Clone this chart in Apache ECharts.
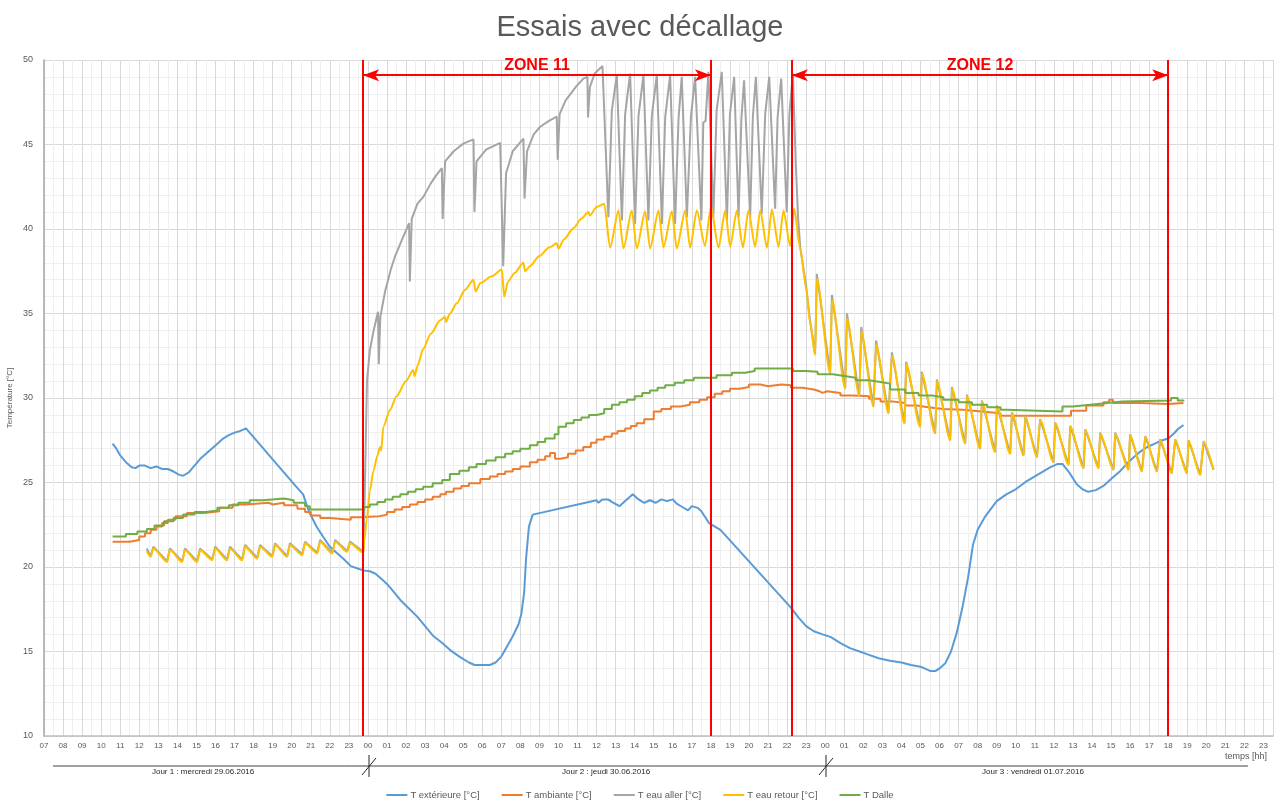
<!DOCTYPE html>
<html>
<head>
<meta charset="utf-8">
<title>Essais avec décallage</title>
<script src="https://cdn.jsdelivr.net/npm/echarts@6/dist/echarts.min.js"></script>
<style>
  html, body { margin: 0; padding: 0; background: #ffffff; }
  #main { width: 1280px; height: 800px; }
</style>
</head>
<body>
<div id="main"></div>
<script>
// Time is expressed in hours since 00:00 on day 1 (29.06.2016).
// 24 = 00:00 day 2, 48 = 00:00 day 3.

const seriesNames = ['T extérieure [°C]', 'T ambiante [°C]', 'T eau aller [°C]', 'T eau retour [°C]', 'T Dalle'];
const seriesColors = ['#5b9bd5', '#ed7d31', '#a5a5a5', '#ffc000', '#70ad47'];

const dayLabels = ['Jour 1 : mercredi 29.06.2016', 'Jour 2 : jeudi 30.06.2016', 'Jour 3 : vendredi 01.07.2016'];
const dayLabelHours = [15.35, 36.5, 58.9];
const dayBreakHours = [24, 48];

const zoneBounds = [23.75, 42, 46.25, 66];
const zoneNames = ['ZONE 11', 'ZONE 12'];
const zoneArrowLevel = 49.1;

// T extérieure
const tExterieure = [
  [10.6,27.3],[10.8,27.0],[11.0,26.6],[11.3,26.2],[11.6,25.9],[11.8,25.85],[12.0,26.0],[12.3,26.0],
  [12.6,25.85],[12.9,25.95],[13.2,25.8],[13.5,25.8],[13.8,25.65],[14.1,25.45],[14.3,25.4],[14.6,25.6],
  [14.9,26.0],[15.2,26.4],[15.5,26.7],[15.8,27.0],[16.1,27.3],[16.4,27.6],[16.7,27.8],[17.0,27.95],
  [17.3,28.05],[17.6,28.2],[17.7,28.2],[20.2,24.8],[20.6,24.3],[20.9,23.3],[21.3,22.4],[21.7,21.7],
  [22.0,21.2],[22.4,20.8],[22.7,20.5],[23.1,20.05],[23.5,19.9],[23.76,19.8],[24.1,19.75],[24.4,19.6],
  [24.7,19.3],[25.0,19.0],[25.3,18.6],[25.7,18.05],[26.1,17.6],[26.6,17.05],[27.0,16.5],[27.4,15.95],
  [27.9,15.5],[28.3,15.1],[28.8,14.7],[29.3,14.35],[29.6,14.2],[30.4,14.2],[30.7,14.35],[31.0,14.7],
  [31.3,15.3],[31.6,15.9],[31.9,16.6],[32.05,17.2],[32.2,18.5],[32.3,20.5],[32.45,22.4],[32.65,23.1],
  [36.0,23.95],[36.1,23.8],[36.3,24.0],[36.6,24.0],[36.8,23.85],[37.2,23.6],[37.5,23.9],[37.9,24.3],
  [38.2,24.0],[38.5,23.8],[38.8,23.95],[39.1,23.8],[39.4,24.0],[39.7,23.9],[40.0,24.0],[40.2,23.75],
  [40.5,23.55],[40.8,23.35],[41.0,23.6],[41.3,23.5],[41.5,23.3],[41.9,22.6],[42.5,22.2],[46.2,17.6],
  [46.6,17.0],[47.0,16.5],[47.4,16.2],[47.9,16.0],[48.3,15.85],[48.8,15.5],[49.3,15.2],[49.8,15.0],
  [50.3,14.8],[50.8,14.6],[51.4,14.45],[52.0,14.35],[52.5,14.2],[53.0,14.1],[53.5,13.85],[53.8,13.85],
  [54.0,14.0],[54.3,14.3],[54.6,15.0],[54.9,16.1],[55.2,17.6],[55.5,19.4],[55.75,21.3],[56.0,22.2],
  [56.4,23.0],[57.0,23.9],[57.5,24.3],[58.0,24.6],[58.6,25.1],[59.2,25.5],[59.8,25.9],[60.2,26.1],
  [60.45,26.1],[60.8,25.6],[61.2,24.9],[61.5,24.6],[61.8,24.45],[62.2,24.55],[62.6,24.8],[63.0,25.2],
  [63.5,25.7],[64.0,26.3],[64.5,26.8],[64.9,27.1],[65.3,27.3],[65.7,27.5],[66.0,27.6],[66.3,27.9],
  [66.5,28.15],[66.8,28.4]
];

// T ambiante (stepped readings)
const tAmbiante = [
  [10.6,21.5],[11.5,21.6],[12.0,21.8],[12.3,22.0],[12.6,22.2],[12.9,22.4],[13.2,22.6],[13.5,22.8],
  [13.9,23.0],[14.5,23.2],[15.4,23.3],[16.2,23.5],[16.9,23.7],[17.6,23.8],[18.8,23.7],[19.0,23.8],
  [19.6,23.65],[20.3,23.45],[20.7,23.25],[21.0,23.05],[21.5,22.9],[22.0,22.8],[23.1,22.95],[23.6,23.0],
  [24.6,23.1],[25.0,23.25],[25.4,23.4],[25.8,23.55],[26.2,23.7],[26.6,23.85],[27.0,24.0],[27.4,24.15],
  [27.8,24.3],[28.1,24.45],[28.5,24.65],[28.9,24.8],[29.3,24.95],[29.9,25.2],[30.4,25.35],[30.8,25.5],
  [31.2,25.65],[31.6,25.8],[32.0,25.95],[32.5,26.2],[32.9,26.35],[33.3,26.55],[33.56,26.75],[33.82,26.4],
  [34.1,26.5],[34.5,26.7],[34.9,26.9],[35.3,27.1],[35.7,27.35],[36.0,27.55],[36.4,27.7],[36.8,27.9],
  [37.1,28.05],[37.5,28.2],[37.8,28.35],[38.1,28.5],[38.5,28.75],[39.0,29.2],[39.4,29.35],[39.9,29.5],
  [40.4,29.6],[40.9,29.75],[41.4,29.9],[41.8,30.05],[42.2,30.25],[42.6,30.4],[43.0,30.55],[43.5,30.65],
  [44.0,30.8],[44.6,30.7],[45.0,30.8],[45.7,30.75],[46.2,30.6],[46.8,30.5],[47.4,30.4],[47.7,30.3],
  [47.85,30.4],[48.1,30.3],[48.8,30.15],[49.5,30.1],[50.3,29.95],[50.9,29.8],[51.5,29.7],[52.2,29.55],
  [52.8,29.45],[53.4,29.35],[54.2,29.3],[55.2,29.2],[56.2,29.1],[57.2,28.95],[58.5,28.95],[60.0,28.95],
  [60.9,29.25],[61.7,29.55],[62.6,29.75],[62.9,29.9],[63.1,29.7],[64.5,29.65],[66.0,29.7],[66.8,29.7]
];

// T eau aller
const tEauAller = [
  [12.39,21.1],[12.6,20.65],[12.74,21.2],[13.46,20.35],[13.61,21.1],[14.25,20.35],[14.4,21.1],[15.04,20.35],
  [15.19,21.1],[15.83,20.45],[15.98,21.2],[16.61,20.45],[16.76,21.2],[17.4,20.45],[17.55,21.3],[18.19,20.55],
  [18.34,21.3],[18.98,20.65],[19.13,21.4],[19.76,20.65],[19.91,21.4],[20.55,20.75],[20.7,21.5],[21.34,20.85],
  [21.49,21.6],[22.13,20.85],[22.28,21.6],[22.91,20.95],[23.06,21.5],[23.76,20.9],
  [23.8,22.5],[23.88,27.0],[23.95,31.0],[24.1,32.8],[24.3,34.0],[24.53,35.1],[24.57,32.0],[24.65,34.8],
  [24.9,36.3],[25.2,37.6],[25.43,38.4],[25.8,39.4],[26.16,40.35],[26.2,36.9],[26.3,40.6],[26.6,41.5],
  [26.91,41.9],[27.3,42.7],[27.6,43.2],[27.88,43.6],[27.92,40.6],[28.05,44.0],[28.5,44.6],[29.01,45.05],
  [29.54,45.3],[29.59,41.0],[29.7,44.0],[30.2,44.7],[30.94,45.1],[31.1,37.8],[31.25,43.3],[31.6,44.6],
  [32.16,45.35],[32.22,41.8],[32.35,44.6],[32.7,45.6],[33.04,46.05],[33.5,46.4],[33.91,46.65],[33.96,44.1],
  [34.06,46.8],[34.37,47.6],[34.9,48.4],[35.31,48.9],[35.52,49.0],[35.55,46.6],[35.65,48.4],[35.9,49.2],
  [36.31,49.65],[36.62,40.7],[36.8,47.0],[37.06,49.1],[37.33,40.5],[37.5,46.8],[37.76,49.2],[38.02,40.3],
  [38.2,46.7],[38.46,49.1],[38.72,40.5],[38.9,46.7],[39.16,49.1],[39.43,40.3],[39.6,46.6],[39.86,49.1],
  [40.12,40.3],[40.3,46.5],[40.47,49.0],[40.74,40.7],[40.95,46.6],[41.17,49.0],[41.5,40.5],[41.6,46.3],
  [41.72,46.4],[41.87,49.3],[42.13,40.7],[42.3,47.0],[42.57,49.3],[42.84,40.5],[43.0,46.8],[43.22,49.0],
  [43.45,40.7],[43.6,46.5],[43.74,48.8],[44.06,40.7],[44.2,46.6],[44.36,49.0],[44.67,40.9],[44.85,46.8],
  [45.06,49.0],[45.37,41.2],[45.5,46.6],[45.69,48.9],[45.98,41.0],[46.12,46.8],[46.3,49.2],[46.45,44.0],
  [46.58,40.6],[46.69,38.9],[47.0,36.6],[47.2,34.6],[47.47,32.6],[47.56,37.35],[48.26,31.45],[48.35,36.1],
  [49.05,30.6],[49.14,35.0],[49.79,30.1],[49.89,34.2],[50.53,29.5],[50.67,33.4],[51.32,29.1],[51.5,32.7],
  [52.16,28.5],[52.25,32.15],[52.98,28.3],[53.07,31.55],[53.77,27.9],[53.86,31.1],[54.56,27.5],[54.65,30.65],
  [55.35,27.3],[55.44,30.2],[56.13,27.0],[56.22,29.85],[56.92,26.8],[57.01,29.55],[57.71,26.7],[57.8,29.15],
  [58.41,26.6],[58.5,28.95],[59.11,26.5],[59.28,28.75],[59.98,26.2],[60.07,28.55],[60.77,26.05],[60.86,28.35],
  [61.56,25.85],[61.65,28.15],[62.34,25.85],[62.43,27.95],[63.13,25.75],[63.22,27.95],[63.92,25.75],[64.0,27.85],
  [64.62,25.65],[64.8,27.75],[65.41,25.65],[65.58,27.55],[66.19,25.55],[66.37,27.55],[66.98,25.55],[67.07,27.5],
  [67.68,25.45],[67.86,27.45],[68.38,25.75]
];

// T eau retour
const tEauRetour = [
  [12.39,20.95],[12.6,20.6],[12.74,21.1],[13.46,20.3],[13.61,21.0],[14.25,20.3],[14.4,21.0],[15.04,20.3],
  [15.19,21.0],[15.83,20.4],[15.98,21.1],[16.61,20.4],[16.76,21.1],[17.4,20.4],[17.55,21.2],[18.19,20.5],
  [18.34,21.2],[18.98,20.6],[19.13,21.3],[19.76,20.6],[19.91,21.3],[20.55,20.7],[20.7,21.4],[21.34,20.8],
  [21.49,21.5],[22.13,20.8],[22.28,21.5],[22.91,20.9],[23.06,21.4],[23.76,20.85],
  [23.8,21.5],[23.94,22.8],[24.1,24.5],[24.29,25.7],[24.5,26.6],[24.64,27.1],[24.7,26.9],[24.81,28.3],
  [25.16,29.3],[25.5,30.1],[26.0,31.0],[26.37,31.65],[26.45,31.3],[26.6,31.9],[26.9,32.9],[27.3,33.8],
  [27.79,34.6],[28.05,34.8],[28.1,34.5],[28.3,35.0],[28.66,35.6],[29.1,36.4],[29.54,37.0],[29.65,36.3],
  [29.9,36.8],[30.5,37.2],[31.03,37.6],[31.15,36.0],[31.35,36.9],[31.7,37.4],[32.16,38.0],[32.25,37.5],
  [32.5,37.8],[33.0,38.4],[33.5,38.9],[33.91,39.15],[34.0,38.85],[34.3,39.4],[34.79,40.05],[35.2,40.6],
  [35.57,41.0],[35.65,40.8],[36.0,41.3],[36.4,41.5],
  [36.71,38.9],[37.15,41.1],[37.41,38.85],[37.85,41.1],[38.11,38.85],[38.55,41.05],[38.81,38.85],[39.25,41.1],
  [39.51,38.9],[39.95,41.05],[40.21,38.85],[40.65,41.1],[40.91,38.9],[41.26,41.1],[41.69,39.0],[42.0,41.3],
  [42.4,38.9],[42.75,41.1],[43.01,38.95],[43.36,41.1],[43.68,38.9],[43.97,41.1],[44.32,38.95],[44.59,41.1],
  [44.94,38.9],[45.2,41.15],[45.55,38.95],[45.81,41.1],[46.16,39.0],[46.37,41.2],
  [46.69,38.8],[47.0,36.5],[47.2,34.5],[47.47,32.55],[47.56,37.05],[48.26,31.45],[48.35,35.8],[49.05,30.55],
  [49.14,34.7],[49.79,30.1],[49.89,33.95],[50.53,29.5],[50.67,33.15],[51.32,29.1],[51.5,32.5],[52.16,28.5],
  [52.25,32.0],[52.98,28.3],[53.07,31.45],[53.77,27.9],[53.86,31.0],[54.56,27.5],[54.65,30.55],[55.35,27.3],
  [55.44,30.1],[56.13,27.0],[56.22,29.8],[56.92,26.8],[57.01,29.5],[57.71,26.7],[57.8,29.1],[58.41,26.6],
  [58.5,28.9],[59.11,26.5],[59.28,28.7],[59.98,26.2],[60.07,28.5],[60.77,26.05],[60.86,28.3],[61.56,25.85],
  [61.65,28.1],[62.34,25.85],[62.43,27.9],[63.13,25.75],[63.22,27.9],[63.92,25.75],[64.0,27.8],[64.62,25.65],
  [64.8,27.7],[65.41,25.65],[65.58,27.5],[66.19,25.55],[66.37,27.5],[66.98,25.55],[67.07,27.45],[67.68,25.45],
  [67.86,27.4],[68.38,25.75]
];

// T Dalle (stepped readings)
const tDalle = [
  [10.6,21.8],[11.3,21.95],[11.9,22.1],[12.4,22.25],[12.8,22.45],[13.3,22.7],[13.8,22.9],[14.3,23.1],
  [14.9,23.25],[15.5,23.35],[16.1,23.5],[16.7,23.65],[17.2,23.8],[17.8,23.95],[18.5,24.05],[19.6,23.95],
  [20.1,23.8],[20.7,23.6],[20.95,23.4],[23.8,23.55],[24.1,23.7],[24.5,23.85],[24.9,24.0],[25.3,24.15],
  [25.7,24.3],[26.1,24.45],[26.5,24.6],[26.9,24.75],[27.4,24.95],[27.9,25.15],[28.3,25.5],[28.8,25.7],
  [29.3,25.9],[29.7,26.1],[30.2,26.3],[30.7,26.5],[31.2,26.7],[31.6,26.85],[32.0,27.0],[32.5,27.2],
  [32.9,27.4],[33.3,27.6],[33.8,27.85],[34.0,28.3],[34.4,28.5],[34.8,28.7],[35.2,28.85],[35.6,29.0],
  [36.0,29.1],[36.4,29.35],[36.8,29.6],[37.2,29.75],[37.6,29.9],[38.0,30.1],[38.4,30.3],[38.8,30.45],
  [39.2,30.6],[39.6,30.75],[40.1,30.9],[40.6,31.05],[41.1,31.2],[42.3,31.35],[43.1,31.5],[43.8,31.6],
  [44.3,31.75],[46.3,31.6],[47.0,31.55],[47.6,31.4],[48.4,31.3],[49.0,31.2],[49.6,31.05],[50.3,30.95],
  [50.9,30.85],[51.4,30.5],[52.2,30.3],[52.9,30.15],[53.6,30.05],[54.2,29.9],[55.0,29.75],[55.7,29.6],
  [56.5,29.45],[57.2,29.3],[57.5,29.2],[60.45,29.5],[61.0,29.6],[61.9,29.7],[62.8,29.8],[63.6,29.85],
  [66.15,30.0],[66.5,29.85],[66.8,29.8]
];

const seriesData = [tExterieure, tAmbiante, tEauAller, tEauRetour, tDalle];
const steppedSeries = [false, true, false, false, true];
const smoothing = [0, 0, 0, 0.25, 0];

const FONT = 'Liberation Sans';
const TEXT = '#595959';

const pad2 = n => (n < 10 ? '0' : '') + n;

const dataSeries = seriesNames.map((name, i) => ({
  name: name,
  type: 'line',
  data: seriesData[i],
  step: steppedSeries[i] ? 'end' : false,
  smooth: smoothing[i] || false,
  smoothMonotone: 'x',
  showSymbol: false,
  symbol: 'none',
  silent: true,
  z: 3,
  lineStyle: { color: seriesColors[i], width: 2 },
  itemStyle: { color: seriesColors[i] }
}));

const zoneLabel = name => ({
  show: true, position: 'insideMiddleTop', distance: 2, formatter: name,
  color: '#ff0000', fontFamily: FONT, fontWeight: 'bold', fontSize: 16
});

const zoneLineSeries = {
  name: 'zones',
  type: 'line',
  data: [],
  silent: true,
  z: 4,
  markLine: {
    silent: true,
    symbol: ['none', 'none'],
    animation: false,
    lineStyle: { color: '#ff0000', width: 2, type: 'solid' },
    label: { show: false },
    data: zoneBounds.map(v => ({ xAxis: v })).concat([0, 1].map(k => [
      { coord: [zoneBounds[2 * k], zoneArrowLevel], symbol: 'arrow', symbolSize: [9, 16], label: zoneLabel(zoneNames[k]) },
      { coord: [zoneBounds[2 * k + 1], zoneArrowLevel], symbol: 'arrow', symbolSize: [9, 16], label: zoneLabel(zoneNames[k]) }
    ]))
  }
};

const option = {
  animation: false,
  backgroundColor: '#ffffff',
  title: {
    text: 'Essais avec décallage',
    left: 'center',
    top: 8,
    textStyle: { fontFamily: FONT, fontSize: 29, fontWeight: 'normal', color: TEXT }
  },
  legend: {
    data: seriesNames,
    left: 'center',
    top: 785,
    icon: 'rect',
    itemWidth: 21,
    itemHeight: 2,
    itemGap: 22,
    textStyle: { fontFamily: FONT, fontSize: 9.5, color: TEXT, padding: [0, 0, 0, -2] }
  },
  grid: { left: 44, right: 7, top: 60, bottom: 64, containLabel: false, outerBoundsMode: 'none' },
  xAxis: {
    type: 'value',
    min: 7,
    max: 71.5,
    interval: 1,
    axisLine: { show: true, lineStyle: { color: '#bfbfbf', width: 1.5 } },
    axisTick: { show: false },
    axisLabel: {
      fontFamily: FONT, fontSize: 8, color: TEXT, margin: 6,
      formatter: v => (Number.isInteger(v) ? pad2(v % 24) : '')
    },
    splitLine: { show: true, lineStyle: { color: '#d9d9d9', width: 1 } },
    minorTick: { show: false, splitNumber: 2 },
    minorSplitLine: { show: true, lineStyle: { color: '#efefef', width: 1 } }
  },
  yAxis: {
    type: 'value',
    min: 10,
    max: 50,
    interval: 5,
    name: 'Température [°C]',
    nameLocation: 'middle',
    nameRotate: 90,
    nameGap: 30,
    nameMoveOverlap: false,
    nameTextStyle: { fontFamily: FONT, fontSize: 8, color: TEXT },
    axisLine: { show: true, lineStyle: { color: '#a6a6a6', width: 1.5 } },
    axisTick: { show: false },
    axisLabel: { fontFamily: FONT, fontSize: 9, color: TEXT, margin: 11 },
    splitLine: { show: true, lineStyle: { color: '#d9d9d9', width: 1 } },
    minorTick: { show: false, splitNumber: 5 },
    minorSplitLine: { show: true, lineStyle: { color: '#efefef', width: 1 } }
  },
  series: dataSeries.concat([zoneLineSeries])
};

const chart = echarts.init(document.getElementById('main'), null, { renderer: 'canvas' });
chart.setOption(option);

// Day ribbon under the time axis
const toPx = h => chart.convertToPixel({ xAxisIndex: 0 }, h);
const ribbonY = 766;
const graphics = [
  { type: 'line', shape: { x1: 53, y1: ribbonY, x2: 1248, y2: ribbonY },
    style: { stroke: '#404040', lineWidth: 1 }, silent: true },
  { type: 'text', x: 1267, y: 752,
    style: { text: 'temps [hh]', fontFamily: FONT, fontSize: 9, fill: TEXT, textAlign: 'right' }, silent: true }
];
dayBreakHours.forEach(h => {
  const x = Math.round(toPx(h)) + 1;
  graphics.push({ type: 'line', shape: { x1: x, y1: ribbonY - 11, x2: x, y2: ribbonY + 11 },
    style: { stroke: '#262626', lineWidth: 1 }, silent: true });
  graphics.push({ type: 'line', shape: { x1: x - 7, y1: ribbonY + 9, x2: x + 7, y2: ribbonY - 8 },
    style: { stroke: '#262626', lineWidth: 1 }, silent: true });
});
dayLabels.forEach((t, i) => {
  graphics.push({ type: 'text', x: toPx(dayLabelHours[i]), y: 768,
    style: { text: t, fontFamily: FONT, fontSize: 8, fill: '#262626', textAlign: 'center' }, silent: true });
});
chart.setOption({ graphic: graphics });
</script>
</body>
</html>
